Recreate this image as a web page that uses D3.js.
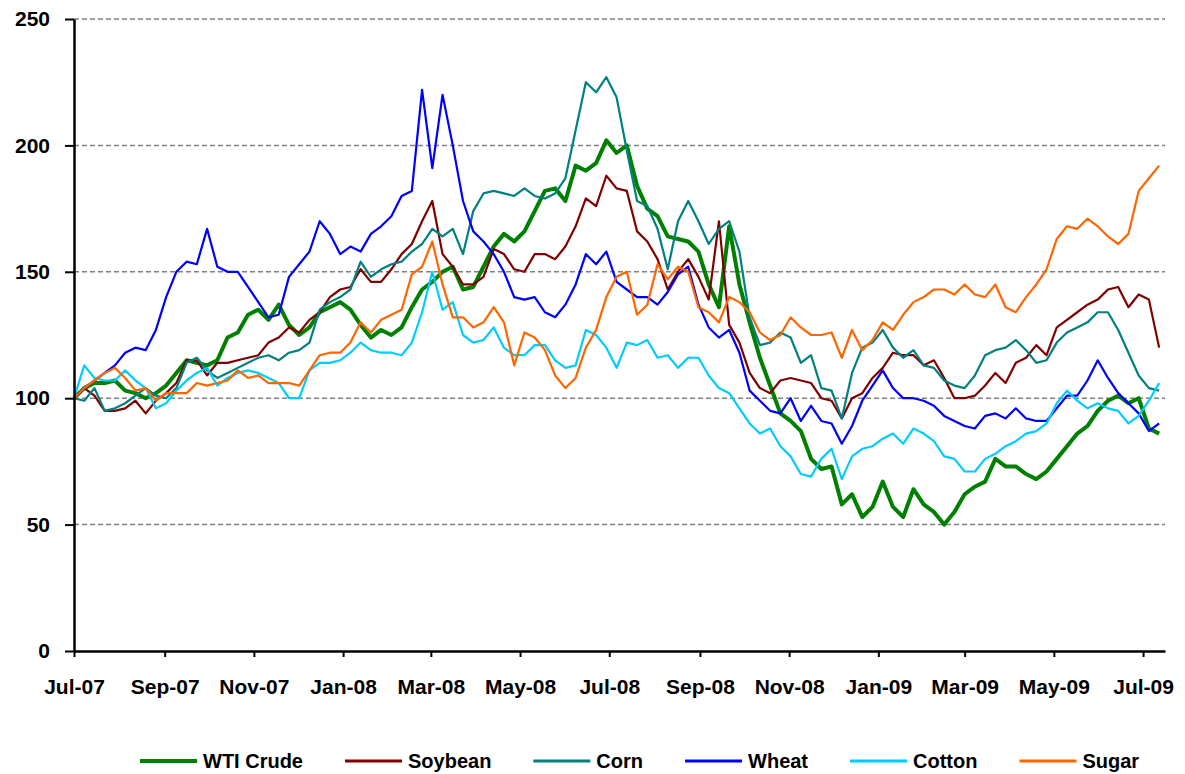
<!DOCTYPE html>
<html>
<head>
<meta charset="utf-8">
<script src="https://cdn.jsdelivr.net/npm/d3@7"></script>
<style>
  body { margin: 0; background: #fff; }
  svg text { font-family: 'Liberation Sans', Arial, sans-serif; font-weight: bold; fill: #000; }
</style>
</head>
<body>
<div id="chart"></div>
<script>
// weekly index values (start = 100)
const startDate = new Date(2007, 6, 1);
const endDate = new Date(2009, 6, 16);

const xTickLabels = ['Jul-07', 'Sep-07', 'Nov-07', 'Jan-08', 'Mar-08', 'May-08', 'Jul-08',
  'Sep-08', 'Nov-08', 'Jan-09', 'Mar-09', 'May-09', 'Jul-09'];
const yTicks = [0, 50, 100, 150, 200, 250];

const seriesNames = ['WTI Crude', 'Soybean', 'Corn', 'Wheat', 'Cotton', 'Sugar'];
const seriesColors = ['#008000', '#800000', '#008080', '#0000ff', '#00ccff', '#ff6600'];

const wti = [
  100, 104, 106, 106, 107, 103, 102, 100, 102, 105,
  110, 115, 114, 113, 115, 124, 126, 133, 135, 131,
  137, 129, 125, 128, 134, 136, 138, 135, 129, 124,
  127, 125, 128, 136, 143, 146, 150, 152, 143, 144,
  152, 160, 165, 162, 166, 174, 182, 183, 178, 192,
  190, 193, 202, 197, 200, 184, 175, 172, 164, 163,
  162, 158, 145, 136, 168, 145, 130, 116, 105, 94,
  91, 87, 76, 72, 73, 58, 62, 53, 57, 67,
  57, 53, 64, 58, 55, 50, 55, 62, 65, 67,
  76, 73, 73, 70, 68, 71, 76, 81, 86, 89,
  95, 99, 101, 98, 100, 88, 86];

const soybean = [
  100, 104, 101, 95, 95, 96, 99, 94, 99, 102,
  106, 115, 115, 109, 114, 114, 115, 116, 117, 122,
  124, 128, 126, 131, 134, 140, 143, 144, 151, 146,
  146, 151, 157, 161, 170, 178, 157, 152, 145, 145,
  148, 159, 157, 151, 150, 157, 157, 155, 160, 168,
  179, 176, 188, 183, 182, 166, 162, 155, 143, 150,
  155, 148, 139, 170, 129, 122, 110, 104, 102, 107,
  108, 107, 106, 100, 99, 92, 100, 102, 108, 112,
  118, 117, 117, 113, 115, 108, 100, 100, 101, 105,
  110, 106, 114, 116, 121, 117, 128, 131, 134, 137,
  139, 143, 144, 136, 141, 139, 120];

const corn = [
  100, 99, 104, 95, 96, 98, 101, 104, 101, 100,
  104, 114, 116, 111, 108, 110, 112, 114, 116, 117,
  115, 118, 119, 122, 135, 138, 140, 143, 154, 148,
  151, 153, 154, 158, 161, 167, 164, 167, 157, 174,
  181, 182, 181, 180, 183, 180, 179, 181, 187, 206,
  225, 221, 227, 219, 198, 178, 176, 167, 151, 170,
  178, 170, 161, 167, 170, 158, 132, 121, 122, 126,
  124, 114, 117, 104, 103, 92, 110, 120, 122, 127,
  120, 116, 119, 113, 112, 107, 105, 104, 109, 117,
  119, 120, 123, 119, 114, 115, 122, 126, 128, 130,
  134, 134, 127, 118, 109, 104, 103];

const wheat = [
  100, 104, 107, 110, 113, 118, 120, 119, 127, 140,
  150, 154, 153, 167, 152, 150, 150, 144, 138, 132,
  133, 148, 153, 158, 170, 165, 157, 160, 158, 165,
  168, 172, 180, 182, 222, 191, 220, 200, 178, 166,
  162, 157, 150, 140, 139, 140, 134, 132, 137, 145,
  157, 153, 158, 146, 143, 140, 140, 137, 142, 149,
  152, 137, 128, 124, 127, 118, 103, 99, 95, 94,
  100, 91, 97, 91, 90, 82, 89, 99, 105, 111,
  104, 100, 100, 99, 97, 93, 91, 89, 88, 93,
  94, 92, 96, 92, 91, 91, 96, 101, 101, 107,
  115, 108, 102, 98, 94, 87, 90];

const cotton = [
  100, 113, 108, 107, 107, 111, 107, 104, 96, 98,
  103, 107, 110, 112, 105, 108, 110, 111, 110, 108,
  106, 100, 100, 111, 114, 114, 115, 118, 122, 119,
  118, 118, 117, 122, 134, 150, 135, 138, 125, 122,
  123, 128, 120, 117, 117, 121, 121, 115, 112, 113,
  127, 125, 120, 112, 122, 121, 123, 116, 117, 112,
  116, 116, 109, 104, 102, 96, 90, 86, 88, 81,
  77, 70, 69, 76, 80, 68, 77, 80, 81, 84,
  86, 82, 88, 86, 83, 77, 76, 71, 71, 76,
  78, 81, 83, 86, 87, 90, 98, 103, 99, 96,
  98, 96, 95, 90, 93, 99, 106];

const sugar = [
  100, 104, 107, 110, 112, 108, 103, 104, 99, 102,
  102, 102, 106, 105, 106, 107, 111, 108, 109, 106,
  106, 106, 105, 111, 117, 118, 118, 122, 130, 126,
  131, 133, 135, 149, 152, 162, 145, 132, 132, 128,
  130, 136, 130, 113, 126, 124, 119, 109, 104, 108,
  120, 127, 140, 148, 150, 133, 137, 153, 147, 152,
  150, 136, 134, 130, 140, 138, 134, 126, 123, 125,
  132, 128, 125, 125, 126, 116, 127, 119, 123, 130,
  127, 133, 138, 140, 143, 143, 141, 145, 141, 140,
  145, 136, 134, 140, 145, 151, 163, 168, 167, 171,
  168, 164, 161, 165, 182, 187, 192];

const seriesValues = [wti, soybean, corn, wheat, cotton, sugar];

const width = 1185;
const height = 774;
const margin = {top: 19, right: 20, bottom: 123, left: 74};

const svg = d3.select('#chart')
  .append('svg')
  .attr('width', width)
  .attr('height', height);

const weeks = wti.map((v, i) => d3.timeDay.offset(startDate, 7 * i));

const x = d3.scaleTime()
  .domain([startDate, endDate])
  .range([margin.left, width - margin.right]);

const y = d3.scaleLinear()
  .domain([0, 250])
  .range([height - margin.bottom, margin.top]);

// dashed gridlines
svg.append('g')
  .attr('class', 'grid')
  .selectAll('line')
  .data(yTicks.filter(d => d > 0))
  .enter().append('line')
    .attr('x1', margin.left)
    .attr('x2', width - margin.right)
    .attr('y1', d => y(d))
    .attr('y2', d => y(d))
    .style('stroke', '#808080')
    .style('stroke-width', 1.5)
    .style('stroke-dasharray', '5,3');

// series, first one at the bottom
const line = d3.line()
  .x((d, i) => x(weeks[i]))
  .y(d => y(d));

svg.append('g')
  .attr('class', 'series')
  .selectAll('path')
  .data(seriesValues)
  .enter().append('path')
    .attr('d', line)
    .style('fill', 'none')
    .style('stroke', (d, i) => seriesColors[i])
    .style('stroke-width', (d, i) => i === 0 ? 4 : 2.2)
    .style('stroke-linejoin', 'round');

// axes
const parseLabel = d3.timeParse('%b-%y');

const yAxis = svg.append('g')
  .attr('transform', `translate(${margin.left},0)`)
  .call(d3.axisLeft(y)
    .tickValues(yTicks)
    .tickSize(9)
    .tickSizeOuter(0)
    .tickPadding(15));

const xAxis = svg.append('g')
  .attr('transform', `translate(0,${height - margin.bottom})`)
  .call(d3.axisBottom(x)
    .tickValues(xTickLabels.map(parseLabel))
    .tickFormat((d, i) => xTickLabels[i])
    .tickSize(6)
    .tickSizeOuter(0)
    .tickPadding(22));

[yAxis, xAxis].forEach(g => {
  g.select('.domain').style('stroke', '#000').style('stroke-width', 2.5);
  g.selectAll('.tick line').style('stroke', '#000').style('stroke-width', 2);
  g.selectAll('text').style('font-size', '21px').style('font-family', null);
});

// legend
const legend = svg.append('g').attr('class', 'legend');
let lx = 140;
seriesNames.forEach((name, i) => {
  legend.append('line')
    .attr('x1', lx)
    .attr('x2', lx + 57)
    .attr('y1', 761)
    .attr('y2', 761)
    .style('stroke', seriesColors[i])
    .style('stroke-width', i === 0 ? 4 : 3);
  const t = legend.append('text')
    .attr('x', lx + 63)
    .attr('y', 768)
    .style('font-size', '20px')
    .text(name);
  lx += 63 + t.node().getComputedTextLength() + 42;
});
</script>
</body>
</html>
